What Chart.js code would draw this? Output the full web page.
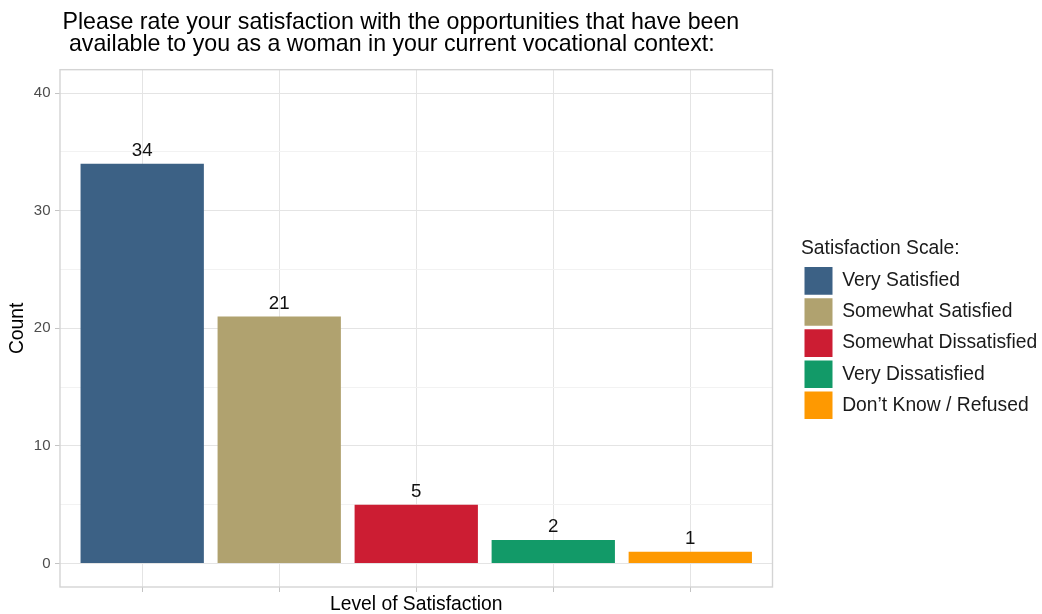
<!DOCTYPE html>
<html>
<head>
<meta charset="utf-8">
<script src="https://cdn.jsdelivr.net/npm/chart.js@4.4.1/dist/chart.umd.min.js"></script>
<style>
  html, body { margin: 0; padding: 0; background: #ffffff; }
  #wrap { position: relative; width: 1042px; height: 614px; }
</style>
</head>
<body>
<div id="wrap"><canvas id="c" width="1042" height="614"></canvas></div>
<script>
// ---- data ----
const categories = ['Very Satisfied', 'Somewhat Satisfied', 'Somewhat Dissatisfied', 'Very Dissatisfied', 'Don\u2019t Know / Refused'];
const counts = [34, 21, 5, 2, 1];
const barColors = ['#3c6185', '#b0a26f', '#cc1d33', '#129a68', '#fe9901'];
const yTickLabels = [0, 10, 20, 30, 40];
const titleLines = ['Please rate your satisfaction with the opportunities that have been', ' available to you as a woman in your current vocational context:'];
const xAxisTitle = 'Level of Satisfaction';
const yAxisTitle = 'Count';
const legendTitle = 'Satisfaction Scale:';

// ---- styling ----
const FONT = "'Liberation Sans', Arial, Helvetica, sans-serif";
Chart.defaults.font.family = FONT;
const GRID_MAJOR = '#E4E4E4';
const GRID_MINOR = '#F2F2F2';
const TICK_COLOR = '#C4C4C4';
const BORDER_COLOR = '#D4D4D4';

const isMajor = v => yTickLabels.includes(v);

const panelBorder = {
  id: 'panelBorder',
  afterLayout(chart) {
    const lg = chart.legend;
    if (lg) {
      const w = lg.width;
      lg.left = 801;
      lg.right = 801 + w;
    }
    const tb = chart.titleBlock;
    if (tb) {
      tb.left += 2.5;
      tb.right += 2.5;
    }
  },
  beforeDatasetsDraw(chart) {
    const {ctx, chartArea: a} = chart;
    ctx.save();
    ctx.strokeStyle = BORDER_COLOR;
    ctx.lineWidth = 1.4;
    ctx.strokeRect(a.left, a.top, a.right - a.left, a.bottom - a.top);
    ctx.restore();
  }
};

const valueLabels = {
  id: 'valueLabels',
  afterDatasetsDraw(chart) {
    const {ctx} = chart;
    const meta = chart.getDatasetMeta(0);
    ctx.save();
    ctx.font = '18.7px ' + FONT;
    ctx.fillStyle = '#111111';
    ctx.textAlign = 'center';
    ctx.textBaseline = 'alphabetic';
    meta.data.forEach((bar, i) => {
      ctx.fillText(String(counts[i]), bar.x, bar.y - 8);
    });
    ctx.restore();
  }
};

new Chart(document.getElementById('c'), {
  type: 'bar',
  data: {
    datasets: [{
      data: counts.map((v, i) => ({x: i + 1, y: v})),
      backgroundColor: barColors,
      borderWidth: 0,
      barPercentage: 0.9,
      categoryPercentage: 1.0
    }]
  },
  plugins: [panelBorder, valueLabels],
  options: {
    responsive: false,
    animation: false,
    devicePixelRatio: 1,
    layout: { padding: { left: 0, right: 29.5, top: 0, bottom: 0 } },
    plugins: {
      tooltip: { enabled: false },
      title: {
        display: true,
        text: titleLines,
        align: 'start',
        fullSize: false,
        color: '#000000',
        font: { family: FONT, size: 23.2, weight: 'normal', lineHeight: 0.95 },
        padding: { top: 11.1, bottom: 14.5 }
      },
      legend: {
        display: true,
        position: 'right',
        align: 'center',
        fullSize: false,
        maxWidth: 240,
        onClick: null,
        title: {
          display: true,
          text: legendTitle,
          position: 'start',
          color: '#1a1a1a',
          font: { family: FONT, size: 19.3, lineHeight: 1.2 },
          padding: { top: 5, bottom: 1.4 }
        },
        labels: {
          boxWidth: 28,
          boxHeight: 27.6,
          padding: 3.5,
          color: '#1a1a1a',
          font: { family: FONT, size: 19.3 },
          generateLabels: () => categories.map((c, i) => ({
            text: c,
            fillStyle: barColors[i],
            strokeStyle: barColors[i],
            lineWidth: 0,
            hidden: false,
            index: i
          }))
        }
      }
    },
    scales: {
      x: {
        type: 'linear',
        min: 0.4,
        max: 5.6,
        offset: false,
        afterFit(s) { s.height = 27; },
        ticks: {
          stepSize: 1,
          includeBounds: false,
          autoSkip: false,
          callback: () => ''
        },
        grid: {
          offset: false,
          color: GRID_MAJOR,
          lineWidth: 1,
          drawTicks: true,
          tickLength: 5,
          tickColor: TICK_COLOR
        },
        border: { display: false },
        title: {
          display: true,
          text: xAxisTitle,
          color: '#000000',
          font: { family: FONT, size: 19.3, lineHeight: 1.0 },
          padding: { top: 0, bottom: 0 }
        }
      },
      y: {
        type: 'linear',
        min: -2,
        max: 42,
        afterFit(s) { s.width = 60; },
        ticks: {
          stepSize: 5,
          includeBounds: false,
          autoSkip: false,
          padding: 4.5,
          color: '#4D4D4D',
          font: { family: FONT, size: 15 },
          callback: v => isMajor(v) ? String(v) : ''
        },
        grid: {
          color: ctx => (ctx.tick && isMajor(ctx.tick.value)) ? GRID_MAJOR : GRID_MINOR,
          lineWidth: 1,
          drawTicks: true,
          tickLength: 5,
          tickColor: ctx => (ctx.tick && isMajor(ctx.tick.value)) ? TICK_COLOR : 'rgba(0,0,0,0)'
        },
        border: { display: false },
        title: {
          display: true,
          text: yAxisTitle,
          color: '#000000',
          font: { family: FONT, size: 19.3, lineHeight: 1.0 },
          padding: { top: 7.65, bottom: 0 }
        }
      }
    }
  }
});
</script>
</body>
</html>
